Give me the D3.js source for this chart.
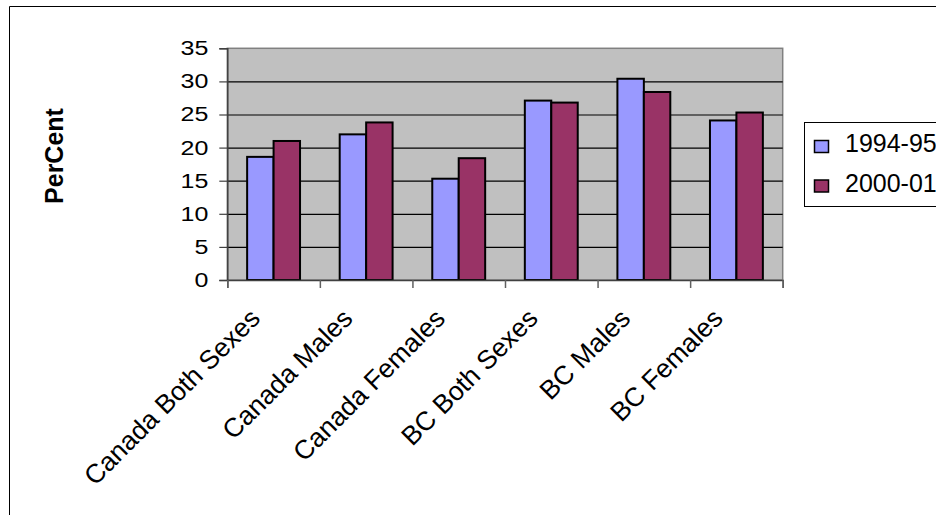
<!DOCTYPE html>
<html>
<head>
<meta charset="utf-8">
<script src="https://cdn.jsdelivr.net/npm/d3@7"></script>
<style>
    body { margin: 0; background: #fff; overflow: hidden; }
    svg { display: block; font-family: "Liberation Sans", Arial, sans-serif; }
</style>
</head>
<body>
<div id="chart"></div>
<script>
// 数据
const categories = ["Canada Both Sexes", "Canada Males", "Canada Females", "BC Both Sexes", "BC Males", "BC Females"];
const seriesNames = ["1994-95", "2000-01"];
const values9495 = [18.6, 22.0, 15.3, 27.1, 30.4, 24.1];
const values0001 = [21.0, 23.8, 18.4, 26.8, 28.4, 25.3];
const yTicks = [0, 5, 10, 15, 20, 25, 30, 35];
const colors = ["#9999FF", "#993366"];

const W = 936, H = 515;
const plot = { left: 227.3, right: 782.7, top: 48.3, bottom: 280 };

const svg = d3.select("#chart").append("svg")
    .attr("width", W)
    .attr("height", H);

// 外框（只露出左边和上边）
svg.append("path")
    .attr("d", `M9.5,${H} V6.5 H${W}`)
    .attr("fill", "none")
    .attr("stroke", "#000")
    .attr("stroke-width", 1);

// 比例尺
const x = d3.scaleBand().domain(categories).range([plot.left, plot.right]).padding(0);
const x1 = d3.scaleBand().domain(seriesNames).range([0, x.bandwidth()])
    .paddingInner(0).paddingOuter(0.75);
const y = d3.scaleLinear().domain([0, 35]).range([plot.bottom, plot.top]);
const xEdges = d3.scaleLinear().domain([0, categories.length]).range([plot.left, plot.right]);

// 绘图区背景
svg.append("rect")
    .attr("x", plot.left).attr("y", plot.top)
    .attr("width", plot.right - plot.left).attr("height", plot.bottom - plot.top)
    .attr("fill", "#C0C0C0")
    .attr("stroke", "#808080")
    .attr("stroke-width", 1.5);

// 网格线
svg.append("g")
    .attr("transform", `translate(${plot.left},0)`)
    .call(d3.axisLeft(y).tickValues(yTicks.slice(1, -1)).tickSize(-(plot.right - plot.left)).tickFormat(""))
    .call(g => g.select(".domain").remove())
    .call(g => g.selectAll("line").attr("stroke", "#000").attr("stroke-width", 1.2));

// 柱子
const rows = categories.map((c, i) => ({ cat: c, vals: [values9495[i], values0001[i]] }));
svg.append("g")
    .selectAll("g")
    .data(rows)
    .join("g")
    .attr("transform", d => `translate(${x(d.cat)},0)`)
    .selectAll("rect")
    .data(d => d.vals.map((v, j) => ({ key: seriesNames[j], v, j })))
    .join("rect")
    .attr("x", d => x1(d.key))
    .attr("y", d => y(d.v))
    .attr("width", x1.bandwidth())
    .attr("height", d => y(0) - y(d.v))
    .attr("fill", d => colors[d.j])
    .attr("stroke", "#000")
    .attr("stroke-width", 2);

// Y 轴
const yAxis = svg.append("g")
    .attr("transform", `translate(${plot.left},0)`)
    .call(d3.axisLeft(y).tickValues(yTicks).tickSize(8).tickPadding(11))
    .call(g => g.select(".domain").attr("stroke", "#404040").attr("stroke-width", 1.5))
    .call(g => g.selectAll(".tick line").attr("stroke", "#404040").attr("stroke-width", 1.2));
yAxis.selectAll("text")
    .attr("font-size", 25)
    .attr("font-family", "Liberation Sans, Arial, sans-serif")
    .attr("fill", "#000")
    .attr("transform", "scale(1,0.8)");

// X 轴
svg.append("g")
    .attr("transform", `translate(0,${plot.bottom})`)
    .call(d3.axisBottom(xEdges).tickValues(d3.range(categories.length + 1)).tickSize(8).tickFormat(""))
    .call(g => g.select(".domain").attr("stroke", "#404040").attr("stroke-width", 1.5))
    .call(g => g.selectAll(".tick line").attr("stroke", "#606060").attr("stroke-width", 1.5));

// X 轴标签
svg.append("g")
    .selectAll("text")
    .data(categories)
    .join("text")
    .attr("transform", d => `translate(${x(d) + x.bandwidth() / 2 - 12},320) rotate(-45)`)
    .attr("text-anchor", "end")
    .attr("font-size", 26.5)
    .attr("fill", "#000")
    .text(d => d);

// Y 轴标题
svg.append("text")
    .attr("transform", "translate(62.5,156) rotate(-90)")
    .attr("text-anchor", "middle")
    .attr("font-size", 25)
    .attr("font-weight", "bold")
    .attr("fill", "#000")
    .text("PerCent");

// 图例
const legend = svg.append("g");
legend.append("rect")
    .attr("x", 804.5).attr("y", 122.5)
    .attr("width", 200).attr("height", 84)
    .attr("fill", "#fff")
    .attr("stroke", "#000")
    .attr("stroke-width", 1);

const legendY = d3.scalePoint().domain(seriesNames).range([146.5, 186]);
const items = legend.selectAll(".item")
    .data(seriesNames)
    .join("g")
    .attr("class", "item");
items.append("rect")
    .attr("x", 814.5)
    .attr("y", d => legendY(d) - 6)
    .attr("width", 14).attr("height", 12)
    .attr("fill", (d, i) => colors[i])
    .attr("stroke", "#000")
    .attr("stroke-width", 1.5);
items.append("text")
    .attr("x", 845)
    .attr("y", d => legendY(d) + 5.5)
    .attr("font-size", 25)
    .attr("fill", "#000")
    .text(d => d);
</script>
</body>
</html>
